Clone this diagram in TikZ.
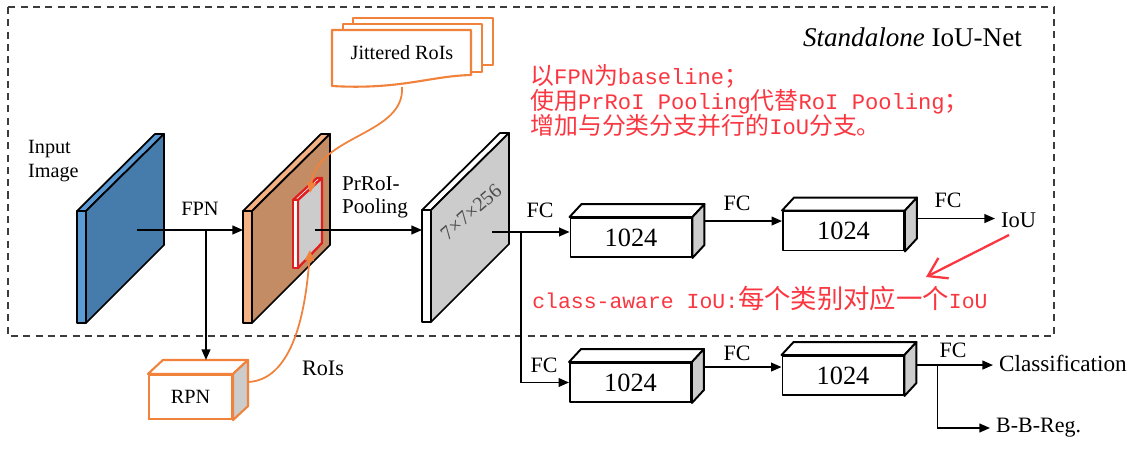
\documentclass[tikz,border=0pt]{standalone}
\usepackage{fontspec}
\setmainfont{Liberation Serif}
\newfontfamily\cjkfont{Noto Sans CJK SC}
\newfontfamily\monofont{Liberation Mono}
\usetikzlibrary{arrows.meta,calc}
\definecolor{redtxt}{RGB}{250,55,65}
\definecolor{orl}{RGB}{240,130,60}
\definecolor{bluef}{RGB}{70,124,172}
\definecolor{bluel}{RGB}{91,155,213}
\definecolor{orf}{RGB}{196,140,100}
\definecolor{orlight}{RGB}{244,177,131}
\definecolor{grayf}{RGB}{204,204,204}
\definecolor{dashc}{RGB}{60,60,60}
\definecolor{roired}{RGB}{225,30,30}
\newcommand\fsz[1]{\fontsize{#1}{#1}\selectfont}
\newcommand\zh[1]{{\cjkfont\fontsize{13.6}{14.2}\selectfont #1}}
\newcommand\zhb[1]{{\cjkfont\fontsize{15}{15}\selectfont #1}}
\newcommand\slabdraw[5]{%
 \begin{scope}[shift={(#1,#2)}, line width=1pt, line join=round]
 \draw[fill=#5] (0,0) -- (78,-77) -- (87,-77) -- (9,0) -- cycle;
 \draw[fill=#3] (9,0) -- (87,-77) -- (87,34) -- (9,112) -- cycle;
 \draw[fill=#4] (0,0) rectangle (9,112);
 \end{scope}}
\newcommand\cubeside[1]{%
 \draw[boxline, fill=white] (#1.north west) -- ++(12,-13) -- ($(#1.north east)+(12,-13)$) -- (#1.north east) -- cycle;
 \draw[boxline, fill=grayf] (#1.north east) -- ++(12,-13) -- ($(#1.south east)+(12,-13)$) -- (#1.south east) -- cycle;}
\tikzset{
 boxline/.style={draw=black, line width=1.1pt, line join=round},
 box/.style={boxline, fill=white, minimum width=2.42cm, minimum height=0.78cm, inner sep=0pt, font=\fsz{15}},
 lab/.style={font=\fsz{12.5}},
 conn/.style={line width=0.9pt, black},
 arr/.style={conn, -{Triangle[length=6pt,width=5pt]}},
 oarr/.style={orl, line width=1pt, -{Triangle[length=6pt,width=5pt]}},
 docshape/.style={draw=orl, line width=1.2pt, fill=white, line join=round},
}
\begin{document}
\begin{tikzpicture}[x=0.02cm,y=-0.02cm]
\useasboundingbox (0,0) rectangle (1134,449);
\fill[white] (0,0) rectangle (1134,449);
% dashed frame
\draw[dashc, line width=1.1pt, dash pattern=on 4pt off 3pt] (8,7) rectangle (1054,336);
\node[anchor=east, font=\fsz{15.4}] (title) at (1028,37) {\textit{Standalone} IoU-Net};
% red notes
\node[anchor=north west, align=left, text=redtxt, inner sep=0pt,
      font=\monofont\fontsize{12.6}{14.2}\selectfont] (note) at (530,64)
 {\zh{以}FPN\zh{为}baseline\zh{；}\\
  \zh{使用}PrRoI Pooling\zh{代替}RoI Pooling\zh{；}\\
  \zh{增加与分类分支并行的}IoU\zh{分支。}};
\node[anchor=west, text=redtxt, inner sep=0pt, font=\monofont\fontsize{12.2}{13}\selectfont] (ca) at (532,298)
 {class-aware IoU:\zhb{每个类别对应一个}IoU};
% jittered rois
\draw[docshape] (353,18) rectangle (493,65);
\draw[docshape] (343,24) rectangle (482,72);
\draw[docshape] (332,30) -- (471,30) -- (471,75) .. controls (430,76) and (400,90) .. (332,86) -- cycle;
\node[font=\fsz{11.5}] (jit) at (402,53) {Jittered RoIs};
\coordinate (jitb) at (402,87);
% slabs
\slabdraw{77}{211}{bluef}{bluel}{bluel}
\slabdraw{243}{211}{orf}{orlight}{orlight}
\slabdraw{422}{210}{grayf}{white}{white}
% red roi region
\begin{scope}[draw=roired, line width=1.3pt, line join=round]
\draw[fill=white] (293,200) -- (317,178) -- (322,178) -- (298,200) -- cycle;
\draw[fill=grayf] (298,200) -- (322,178) -- (322,243) -- (298,268) -- cycle;
\draw[fill=white] (293,200) rectangle (298,268);
\end{scope}
\node[rotate=41, text=black!70, font=\fsz{11.5}, inner sep=0pt] (dims) at (471,212) {7×7×256};
% labels
\node[anchor=west, align=left, font=\fontsize{11.5}{14}\selectfont] (inp) at (22,161) {Input\\Image};
\node[font=\fsz{11.6}] (fpnl) at (200,209) {FPN};
\node[anchor=west, align=left, font=\fontsize{12}{13.2}\selectfont] (prl) at (336,197) {PrRoI-\\Pooling};
\node[font=\fsz{12.6}] (rois) at (323,368) {RoIs};
% RPN
\node[draw=orl, line width=1.2pt, fill=white, minimum width=1.66cm, minimum height=0.88cm, font=\fsz{11.5}] (rpn) at (190.5,397) {RPN};
\draw[orl, line width=1.2pt, fill=white, line join=round] (rpn.north west) -- ++(15,-14) -- ($(rpn.north east)+(15,-14)$) -- (rpn.north east) -- cycle;
\draw[orl, line width=1.2pt, fill=grayf, line join=round] (rpn.north east) -- ++(15,-14) -- ($(rpn.south east)+(15,-14)$) -- (rpn.south east) -- cycle;
% boxes
\node[box] (box1) at (631,237.5) {1024};
\node[box] (box2) at (843.5,231) {1024};
\node[box] (box3) at (630.5,382.5) {1024};
\node[box] (box4) at (843,375.5) {1024};
\cubeside{box1}
\cubeside{box2}
\cubeside{box3}
\cubeside{box4}
% output labels
\node[anchor=west, font=\fsz{12.8}] (iou) at (995,220) {IoU};
\node[anchor=west, font=\fsz{13.2}] (cls) at (993,363) {Classification};
\node[anchor=west, font=\fsz{12.5}] (bbr) at (990,428) {B-B-Reg.};
\node[lab] (fc1) at (540,210) {FC};
\node[lab] (fc2) at (737,203) {FC};
\node[lab] (fc3) at (948,200) {FC};
\node[lab] (fc4) at (544,365) {FC};
\node[lab] (fc5) at (737,353) {FC};
\node[lab] (fc6) at (953,350) {FC};
% main connectors
\coordinate (bc) at (137,230);
\coordinate (ol) at (243,230);
\coordinate (fsplit) at (206,230);
\coordinate (rpnTop) at ($(rpn.north west)+(15,-14)$);
\coordinate (rc) at (315,230);
\coordinate (gl) at (422,230);
\coordinate (gc) at (492,232);
\coordinate (br) at (521,232);
\draw[arr] (bc) -- (ol);
\draw[arr] (fsplit) -- (fsplit |- rpnTop);
\draw[arr] (rc) -- (gl);
\draw[conn] (gc) -- (br);
\draw[arr] (br) -- (br -| box1.west);
\draw[arr] (br) |- (box3.west);
\coordinate (o1) at ($(box1.north east)+(12,4)$);
\coordinate (o2) at ($(box2.north east)+(12,8)$);
\coordinate (o3) at ($(box3.north east)+(12,5)$);
\coordinate (o4) at ($(box4.north east)+(12,10)$);
\coordinate (b4s) at ($(o4)+(21,0)$);
\draw[arr] (o1) -- (o1 -| box2.west);
\draw[arr] (o2) -- (o2 -| iou.west);
\draw[arr] (o3) -- (o3 -| box4.west);
\draw[arr] (o4) -- (o4 -| cls.west);
\draw[arr] (b4s) |- (bbr.west);
% orange curves
\coordinate (redtop) at (310,193);
\coordinate (redbot) at (310,250);
\coordinate (rpnr) at ($(rpn.east)+(15,-15)$);
\draw[oarr] (jitb) .. controls (405,135) and (318,135) .. (redtop);
\draw[oarr] (rpnr) .. controls (290,380) and (305,320) .. (redbot);
% red arrow
\coordinate (ra1) at (1009,235);
\coordinate (ra2) at (926,277);
\draw[redtxt, line width=1.3pt, -{Straight Barb[length=10pt,width=13pt]}] (ra1) -- (ra2);
\end{tikzpicture}
\end{document}
